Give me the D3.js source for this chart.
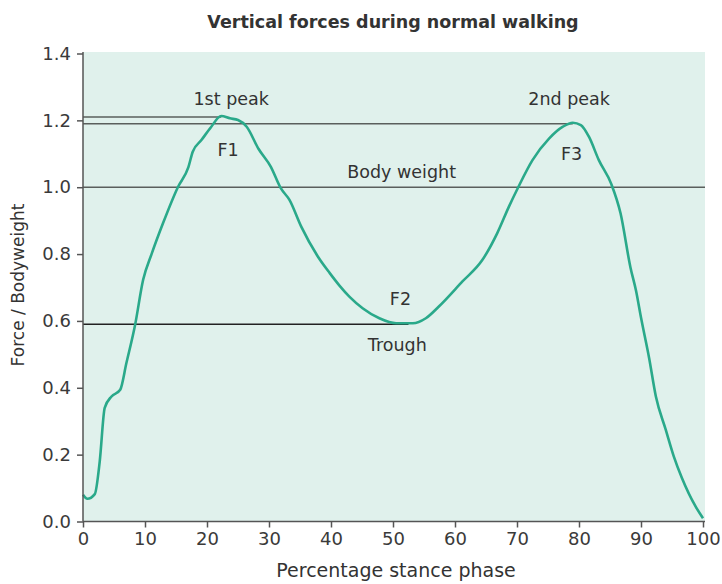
<!DOCTYPE html>
<html lang="en">

<head>
    <meta charset="UTF-8">
    <title>Vertical forces during normal walking</title>
    <style>
        html,
        body {
            background-color: white;
            margin: 0;
        }

        text {
            font-family: "DejaVu Sans", sans-serif;
            fill: #333;
        }

        .axis path,
        .axis line {
            stroke: #555;
            stroke-width: 1.5;
        }

        .axis text {
            font-size: 18px;
            fill: #3a3a3a;
        }
    </style>
</head>

<body>
    <main></main>
    <script src="https://d3js.org/d3.v7.min.js"></script>
    <script>
        !(function () {
            'use strict';
            // - - - - - - - - - -
            // 1. Data
            // - - - - - - - - - -

            // percentage of stance phase
            const stancePct = [0, 0.7, 1.9, 2.7, 3.5, 4.6, 6.0, 7.0, 8.4, 9.7, 11.1, 12.9, 15.3, 17.0, 17.7,
                19.1, 20.5, 22.3, 23.7, 25.0, 26.4, 28.3, 30.3, 31.9, 33.3, 35.2, 37.9, 39.8, 41.4, 43.0,
                45.1, 47.8, 50.5, 53.2, 55.3, 57.4, 61.2, 64.4, 66.8, 68.7, 70.2, 72.5, 75.2, 77.4, 79.0,
                80.3, 81.6, 83.2, 85.2, 86.7, 88.3, 89.2, 90.0, 91.3, 92.4, 94.0, 95.3, 96.6, 98.8, 100];

            // vertical force / bodyweight
            const forceBw = [0.08, 0.068, 0.082, 0.18, 0.34, 0.374, 0.394, 0.474, 0.588, 0.723, 0.802, 0.892, 1.0, 1.06, 1.106,
                1.141, 1.176, 1.213, 1.206, 1.201, 1.181, 1.115, 1.061, 0.997, 0.962, 0.882, 0.792, 0.743, 0.705, 0.672,
                0.638, 0.608, 0.593, 0.593, 0.608, 0.643, 0.718, 0.782, 0.862, 0.942, 1.0, 1.081, 1.146, 1.181, 1.193,
                1.186, 1.151, 1.081, 1.01, 0.922, 0.76, 0.69, 0.61, 0.49, 0.374, 0.274, 0.194, 0.13, 0.045, 0.01];

            // reference lines: level and where they stop (stance %)
            const refLevels = [1.21, 1.19, 1.0, 0.59];
            const refEnds = [22.3, 79.0, 100, 52.5];

            // annotations
            const noteTexts = ['1st peak', 'F1', 'Body weight', 'F2', 'Trough', '2nd peak', 'F3'];
            const noteX = [23.9, 23.4, 51.4, 51.2, 50.7, 78.4, 78.8];
            const noteY = [1.245, 1.092, 1.028, 0.648, 0.51, 1.245, 1.081];

            const xTicks = [0, 10, 20, 30, 40, 50, 60, 70, 80, 90, 100];
            const yTicks = [0, 0.2, 0.4, 0.6, 0.8, 1.0, 1.2, 1.4];

            let svg, x, y;

            const canvas = {
                width: 722,
                height: 584
            };
            const plot = {
                left: 83,
                right: 703,
                top: 53.5,
                bottom: 521.5
            };

            // - - - - - - - - - -
            // 2. Functions
            // - - - - - - - - - -

            function setSvg() {
                svg = d3.select('main')
                    .append('svg')
                    .attr('width', canvas.width)
                    .attr('height', canvas.height);
            }

            function setScales() {
                x = d3.scaleLinear().domain([0, 100]).range([plot.left, plot.right]);
                y = d3.scaleLinear().domain([0, 1.4]).range([plot.bottom, plot.top]);
            }

            function draw() {
                // shaded plot area
                svg.append('rect')
                    .attr('x', x(0))
                    .attr('y', y(1.4) - 1.5)
                    .attr('width', x(100) - x(0) + 2)
                    .attr('height', y(0) - y(1.4) + 1.5)
                    .attr('fill', '#e0f1ec');

                // reference lines
                svg.append('g')
                    .selectAll('line')
                    .data(refLevels)
                    .join('line')
                    .attr('x1', x(0))
                    .attr('x2', function (d, i) {
                        return x(refEnds[i]) + (refEnds[i] === 100 ? 2 : 0);
                    })
                    .attr('y1', function (d) { return y(d); })
                    .attr('y2', function (d) { return y(d); })
                    .attr('stroke', function (d, i) { return i === 3 ? '#222' : '#5a5f5c'; })
                    .attr('stroke-width', 1.5);

                // force curve
                const line = d3.line()
                    .x(function (d, i) { return x(stancePct[i]); })
                    .y(function (d) { return y(d); })
                    .curve(d3.curveMonotoneX);

                svg.append('path')
                    .datum(forceBw)
                    .attr('d', line)
                    .attr('fill', 'none')
                    .attr('stroke', '#2aa98a')
                    .attr('stroke-width', 2.6)
                    .attr('stroke-linejoin', 'round');

                // axes
                svg.append('g')
                    .attr('class', 'axis')
                    .attr('transform', 'translate(0,' + plot.bottom + ')')
                    .call(d3.axisBottom(x).tickValues(xTicks).tickSize(6).tickPadding(5)
                        .tickFormat(d3.format('d')))
                    .call(function (g) { g.select('.domain').attr('d', 'M' + plot.left + ',0H' + (plot.right + 2)); });

                svg.append('g')
                    .attr('class', 'axis')
                    .attr('transform', 'translate(' + plot.left + ',0)')
                    .call(d3.axisLeft(y).tickValues(yTicks).tickSize(6).tickPadding(6)
                        .tickFormat(d3.format('.1f')))
                    .call(function (g) { g.select('.domain').attr('d', 'M0,' + (plot.top - 1.5) + 'V' + plot.bottom); });

                svg.selectAll('.axis .tick text').attr('fill', '#3a3a3a');

                // annotations
                svg.append('g')
                    .selectAll('text')
                    .data(noteTexts)
                    .join('text')
                    .attr('x', function (d, i) { return x(noteX[i]); })
                    .attr('y', function (d, i) { return y(noteY[i]); })
                    .attr('text-anchor', 'middle')
                    .style('font-size', '17.5px')
                    .text(function (d) { return d; });

                // title and axis labels
                svg.append('text')
                    .attr('x', 393)
                    .attr('y', 28)
                    .attr('text-anchor', 'middle')
                    .style('font-size', '17.5px')
                    .style('font-weight', 'bold')
                    .attr('fill', '#222')
                    .text('Vertical forces during normal walking');

                svg.append('text')
                    .attr('x', 396)
                    .attr('y', 577)
                    .attr('text-anchor', 'middle')
                    .style('font-size', '19px')
                    .text('Percentage stance phase');

                svg.append('text')
                    .attr('transform', 'translate(24,285) rotate(-90)')
                    .attr('text-anchor', 'middle')
                    .style('font-size', '17px')
                    .text('Force / Bodyweight');
            }

            // - - - - - - - - - -
            // 3. Main control
            // - - - - - - - - - -

            function main() {
                setSvg();
                setScales();
                draw();
            }

            window.addEventListener('load', main);
        }());
    </script>
</body>

</html>
